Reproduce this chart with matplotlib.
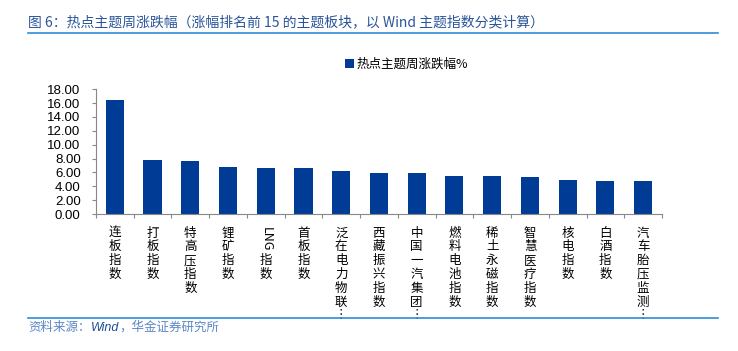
import matplotlib
matplotlib.use("Agg")
import matplotlib.pyplot as plt
import matplotlib.transforms as mtransforms
import numpy as np

plt.rcParams['font.family'] = ['Liberation Sans', 'Noto Sans CJK SC', 'DejaVu Sans']

# data
names = ['连板指数', '打板指数', '特高压指数', '锂矿指数', 'LNG指数', '首板指数',
         '泛在电力物联…', '西藏振兴指数', '中国一汽集团…', '燃料电池指数',
         '稀土永磁指数', '智慧医疗指数', '核电指数', '白酒指数', '汽车胎压监测…']
values = [16.50, 7.78, 7.64, 6.80, 6.62, 6.62, 6.20, 5.85, 5.85, 5.50,
          5.42, 5.32, 4.85, 4.75, 4.70]
yticks = np.arange(0, 18.01, 2)

bar_color = '#003C96'
line_color = '#2E8BD6'
cjk = ['Noto Sans CJK SC', 'DejaVu Sans']

fig = plt.figure(figsize=(7.38, 3.51), dpi=100)
ax = fig.add_axes([0.130, 0.390, 0.767, 0.356])

x = np.arange(len(names))
ax.bar(x, values, width=0.48, color=bar_color, label='热点主题周涨跌幅%')
ax.set_xlim(-0.5, len(names) - 0.5)
ax.set_ylim(0, 18)
ax.set_yticks(yticks)
ax.set_yticklabels(['%.2f' % v for v in yticks], fontsize=9.5)
ax.set_xticks(np.arange(len(names) + 1) - 0.5)
ax.set_xticklabels([])
ax.tick_params(axis='y', length=3, color='#888888', pad=8)
ax.tick_params(axis='x', length=3, color='#888888')
for s in ['top', 'right']:
    ax.spines[s].set_visible(False)
for s in ['left', 'bottom']:
    ax.spines[s].set_color('#888888')
    ax.spines[s].set_linewidth(0.8)

# category labels, one character per line
trans = mtransforms.blended_transform_factory(ax.transData, ax.transAxes)
for i, n in enumerate(names):
    if n.startswith('LNG'):
        ax.text(i, -0.10, 'LNG', rotation=-90, ha='center', va='top',
                fontsize=9, transform=trans, family=cjk)
        ax.text(i, -0.32, '指\n数', ha='center', va='top', fontsize=9,
                linespacing=1.08, transform=trans, family=cjk)
        continue
    label = n.replace('…', '︙')
    ax.text(i, -0.10, '\n'.join(label), ha='center', va='top', fontsize=9,
            linespacing=1.08, transform=trans, family=cjk)

leg = ax.legend(loc='upper center', bbox_to_anchor=(0.548, 1.34), frameon=False,
                prop={'family': cjk, 'size': 9}, handlelength=0.7,
                handleheight=0.7, handletextpad=0.2)

# title, rules and source
fig.text(0.038, 0.937, '图 6：热点主题周涨跌幅（涨幅排名前 15 的主题板块，以 Wind 主题指数分类计算）',
         fontsize=10, color='#2A5599', family=cjk, va='center')
fig.add_artist(plt.Line2D([0.038, 0.973], [0.905, 0.905], color=line_color, lw=1.2))
fig.add_artist(plt.Line2D([0.038, 0.973], [0.095, 0.095], color=line_color, lw=1.2))
t1 = fig.text(0.038, 0.058, '资料来源：', fontsize=9, color='#5B86C5',
              style='italic', family=cjk, va='baseline')
t2 = fig.text(0, 0, 'Wind', fontsize=9, color='#1F4E96', style='italic',
              va='baseline', transform=mtransforms.offset_copy(
                  fig.transFigure, fig=fig, x=0, y=0))
fig.canvas.draw()
r = fig.canvas.get_renderer()
bb1 = t1.get_window_extent(r).transformed(fig.transFigure.inverted())
t2.set_position((bb1.x1, 0.058))
fig.canvas.draw()
bb2 = t2.get_window_extent(r).transformed(fig.transFigure.inverted())
fig.text(bb2.x1, 0.058, '，华金证券研究所', fontsize=9, color='#5B86C5',
         style='italic', family=cjk, va='baseline')

fig.savefig('out.png', dpi=100)
